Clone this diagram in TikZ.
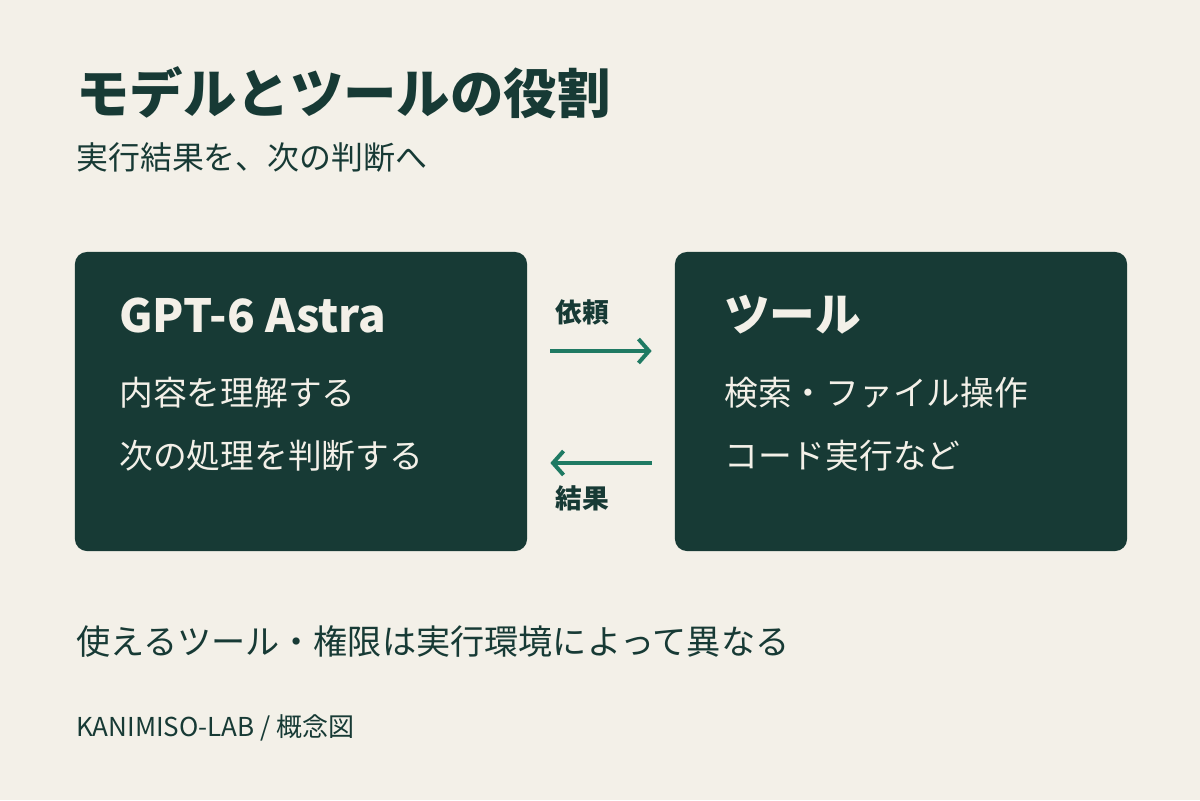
\documentclass[tikz,border=0pt]{standalone}
\usepackage{fontspec}
\setmainfont{Noto Sans CJK JP}
\usetikzlibrary{arrows.meta,calc}
\definecolor{paper}{HTML}{F3F0E8}
\definecolor{deepgreen}{HTML}{173A35}
\definecolor{flowgreen}{HTML}{1F7A63}
\tikzset{
	box/.style={fill=deepgreen, rounded corners=0.3cm, minimum width=11.3cm, minimum height=7.475cm, inner sep=0pt},
	boxhead/.style={anchor=west, inner sep=0pt, text=paper, font=\fontsize{32.5}{38}\selectfont\bfseries},
	boxline/.style={anchor=west, inner sep=0pt, text=paper, font=\fontsize{24}{28}\selectfont},
	flow/.style={line width=2.8pt, color=flowgreen, -{Straight Barb[length=7.5pt,width=17pt]}, shorten <=0.575cm, shorten >=0.575cm},
	flowlabel/.style={inner sep=0pt, text=deepgreen, font=\fontsize{19}{22}\selectfont\bfseries}
}

\begin{document}
\begin{tikzpicture}[x=0.025cm, y=-0.025cm]
		%%%%% START %%%%%
		
		\fill[paper] (0, 0) rectangle (1200, 800);
		\useasboundingbox (0, 0) rectangle (1200, 800);
		
		\node[anchor=west, inner sep=0pt, text=deepgreen, font=\fontsize{38}{44}\selectfont\bfseries] (title) at (76, 93) {モデルとツールの役割};
		\node[anchor=west, inner sep=0pt, text=deepgreen, font=\fontsize{22.7}{26}\selectfont] (subtitle) at (76, 157) {実行結果を、次の判断へ};
		
		\node[box] (model) at (301, 401.5) {};
		\node[box] (tool) at (901, 401.5) {};
		
		\node[boxhead] (modelname) at (119, 315) {GPT-6 Astra};
		\node[boxline] (modelA) at (119, 393) {内容を理解する};
		\node[boxline] (modelB) at (119, 456) {次の処理を判断する};
		
		\node[boxhead] (toolname) at (724, 315) {ツール};
		\node[boxline] (toolA) at (724, 393) {検索・ファイル操作};
		\node[boxline] (toolB) at (724, 456) {コード実行など};
		
		\draw[flow] ($(model.east)+(0, -50.5)$) -- ($(tool.west)+(0, -50.5)$);
		\draw[flow] ($(tool.west)+(0, 61.5)$) -- ($(model.east)+(0, 61.5)$);
		\node[flowlabel] (request) at (582, 312) {依頼};
		\node[flowlabel] (result) at (582, 498) {結果};
		
		\node[anchor=west, inner sep=0pt, text=deepgreen, font=\fontsize{24.3}{28}\selectfont] (note) at (76, 641) {使えるツール・権限は実行環境によって異なる};
		\node[anchor=west, inner sep=0pt, text=deepgreen, font=\fontsize{18.5}{22}\selectfont] (footer) at (76, 728) {KANIMISO-LAB / 概念図};
		
		%%%%% END %%%%%
	\end{tikzpicture}
\end{document}
